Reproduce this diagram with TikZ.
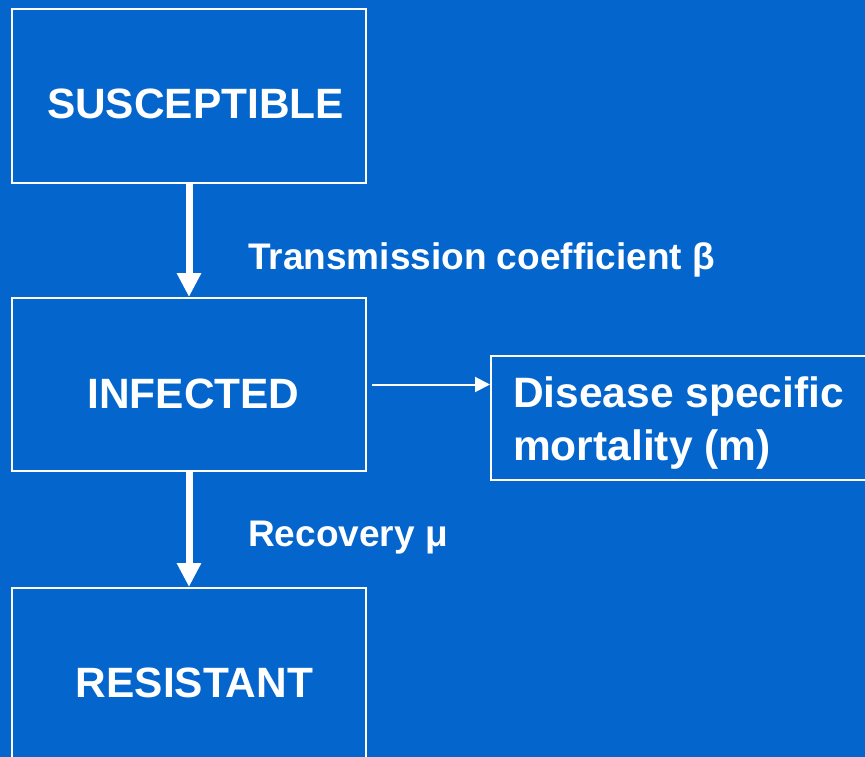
\documentclass[tikz,border=0pt]{standalone}
\usepackage{fontspec}
\setmainfont{Liberation Sans}
\usetikzlibrary{arrows.meta}
\definecolor{bg}{RGB}{4,102,204}
\tikzset{
  box/.style={draw=white, line width=2pt, rectangle, inner sep=0pt},
  boxtext/.style={text=white, font=\fontsize{42.4}{50}\selectfont\bfseries, anchor=base, inner sep=0pt},
  edgetext/.style={text=white, font=\fontsize{37}{44}\selectfont\bfseries, anchor=base west, inner sep=0pt},
  bigarrow/.style={draw=white, line width=7pt, -{Triangle[length=24pt,width=23pt]}},
  thinarrow/.style={draw=white, line width=2pt, -{Triangle[length=15pt,width=15pt]}}
}
\begin{document}
\begin{tikzpicture}[x=1pt,y=1pt]
\useasboundingbox (0,0) rectangle (865,-757);
\clip (0,0) rectangle (865,-757);
\fill[bg] (0,0) rectangle (865,-757);
\node[box, minimum width=354pt, minimum height=174pt] (S) at (189,-96) {};
\node[box, minimum width=354pt, minimum height=173pt] (I) at (189,-384.5) {};
\node[box, minimum width=354pt, minimum height=200pt] (R) at (189,-688) {};
\node[box, minimum width=420pt, minimum height=124pt] (M) at (701,-418) {};
\node[boxtext] (St) at (195.5,-119) {SUSCEPTIBLE};
\node[boxtext] (It) at (193.5,-408) {INFECTED};
\node[boxtext] (Rt) at (194.5,-697) {RESISTANT};
\node[text=white, font=\fontsize{42.5}{53}\selectfont\bfseries, align=left, anchor=north west, inner sep=0pt] (Mt) at (513,-377) {Disease specific\\mortality (m)};
\draw[bigarrow] (S.south) -- (I.north);
\draw[bigarrow] (I.south) -- (R.north);
\draw[thinarrow, shorten <=5pt] (I.east) -- (I.east -| M.west);
\node[edgetext] (Tl) at (248,-269) {Transmission coefficient β};
\node[edgetext] (Rl) at (248,-546) {Recovery μ};
\end{tikzpicture}
\end{document}
